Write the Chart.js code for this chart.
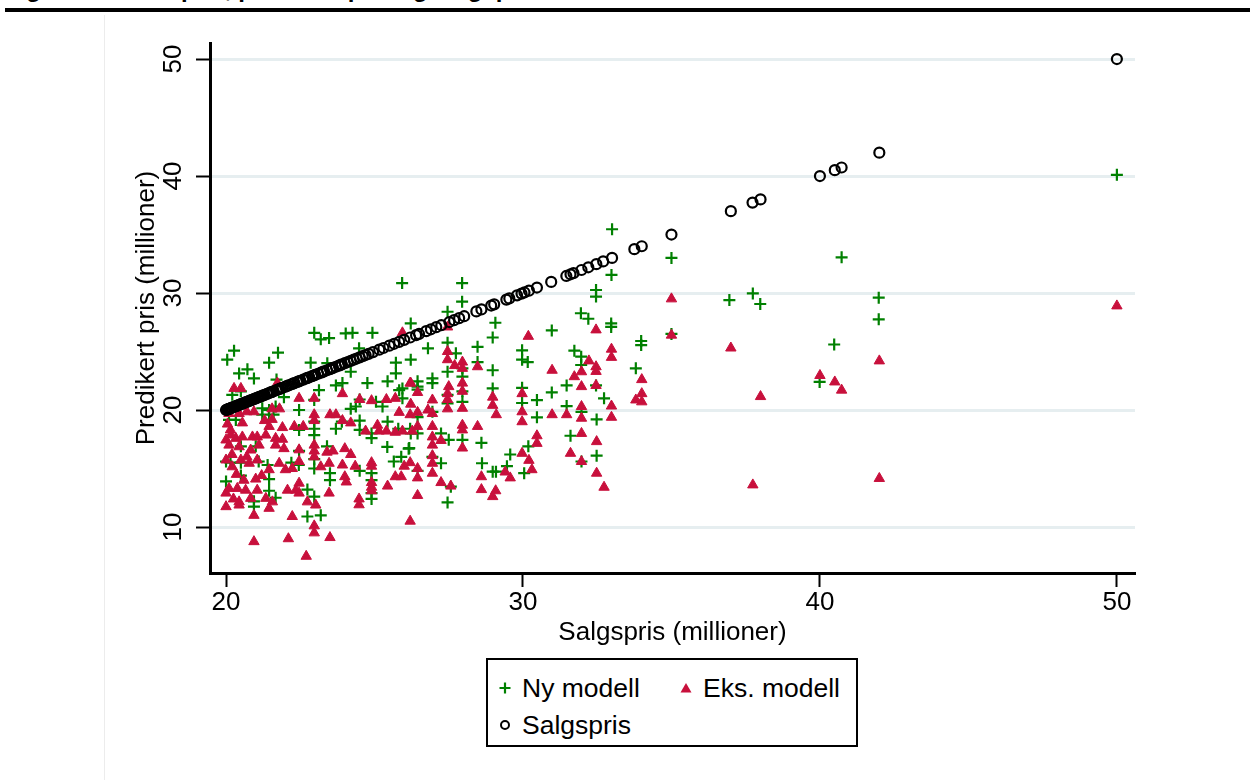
<!DOCTYPE html>
<html lang="no">
<head>
<meta charset="UTF-8">
<title>Predikert pris mot salgspris</title>
<style>
    body { margin: 0; background: #fff; font-family: 'Liberation Sans', Arial, sans-serif; }
    .wrap { position: relative; width: 1250px; height: 780px; overflow: hidden; }
    .toptitle { position: absolute; left: 5px; top: -24px; font-size: 24px; font-weight: bold; color: #000; white-space: nowrap; line-height: 26px; }
    .topline { position: absolute; left: 5px; right: 0; top: 8px; height: 4px; background: #000; }
    .sideline { position: absolute; left: 104px; top: 15px; bottom: 0; width: 1px; background: #ececec; }
    canvas { position: absolute; left: 0; top: 0; }
    .legend { position: absolute; left: 486px; top: 658px; width: 368px; height: 85px; border: 2px solid #000; background: #fff; }
    .item { position: absolute; font-size: 26.5px; color: #000; line-height: 30px; white-space: nowrap; }
    .item svg { position: absolute; left: -24px; top: 8px; }
</style>
</head>
<body>
<div class="wrap">
    <div class="toptitle">Figur 3: Scatterplot, predikert pris og salgspris</div>
    <div class="topline"></div>
    <div class="sideline"></div>
    <canvas id="chart" width="1250" height="780"></canvas>
    <div class="legend">
        <div class="item" style="left:34px; top:13px;">
            <svg width="14" height="14"><path d="M7 1.5 V12.5 M1.5 7 H12.5" stroke="#008000" stroke-width="2.2"/></svg>Ny modell</div>
        <div class="item" style="left:215px; top:13px;">
            <svg width="14" height="14"><path d="M7 2 L12.5 11.5 L1.5 11.5 Z" fill="#c8103c"/></svg>Eks. modell</div>
        <div class="item" style="left:34px; top:50px;">
            <svg width="14" height="14"><circle cx="7" cy="7" r="4" fill="none" stroke="#000" stroke-width="2"/></svg>Salgspris</div>
    </div>
</div>

<script src="https://cdn.jsdelivr.net/npm/chart.js"></script>
<script>
    // tick labels
    const xTicks = [20, 30, 40, 50];
    const yTicks = [10, 20, 30, 40, 50];

    // Salgspris (plotted against itself)
    const salgX = [
        20.0, 20.02, 20.05, 20.08, 20.1, 20.13, 20.16, 20.2, 20.25, 20.3, 20.33, 20.38, 20.42, 20.47,
        20.5, 20.55, 20.6, 20.65, 20.7, 20.75, 20.8, 20.85, 20.9, 20.95, 21.0, 21.05, 21.1, 21.15,
        21.2, 21.25, 21.3, 21.38, 21.45, 21.5, 21.55, 21.6, 21.7, 21.75, 21.8, 21.85, 21.9, 22.0,
        22.05, 22.1, 22.2, 22.25, 22.3, 22.4, 22.45, 22.5, 22.6, 22.7, 22.75, 22.8, 22.9, 22.95,
        23.0, 23.1, 23.2, 23.25, 23.3, 23.4, 23.5, 23.55, 23.6, 23.7, 23.8, 23.85, 23.9, 24.0,
        24.1, 24.2, 24.3, 24.4, 24.5, 24.6, 24.7, 24.8, 24.95, 25.16, 25.3, 25.5, 25.66, 25.83,
        26.0, 26.2, 26.4, 26.5, 26.74, 26.9, 27.08, 27.25, 27.52, 27.68, 27.85, 28.02, 28.43, 28.6,
        28.93, 29.03, 29.44, 29.54, 29.8, 29.95, 30.05, 30.2, 30.47, 30.95, 31.46, 31.6, 31.7, 31.97,
        32.2, 32.47, 32.7, 33.0, 33.75, 34.0, 35.0, 37.0, 37.73, 38.0, 40.0, 40.5, 40.73, 42.0, 50.0
    ];

    // Ny modell
    const nyX = [
        22.97, 23.19, 23.47, 24.03, 24.26, 24.93, 26.22, 20.04, 20.27, 21.75, 21.45, 20.44, 20.72, 20.94,
        21.7, 22.85, 23.41, 24.48, 25.72, 25.72, 26.22, 24.2, 23.7, 23.92, 24.76, 25.44, 25.83, 25.94,
        26.45, 20.21, 20.5, 21.95, 23.13, 22.97, 24.37, 25.05, 25.27, 24.5, 21.22, 21.45, 21.67, 22.46,
        20.1, 20.33, 21.22, 21.45, 21.6, 22.46, 22.97, 22.97, 22.97, 23.7, 23.9, 24.2, 24.5, 24.5,
        24.9, 24.9, 25.44, 25.8, 26.2, 20.5, 21.0, 22.46, 23.4, 25.43, 25.65, 25.9, 26.15, 20.0,
        20.15, 20.5, 21.1, 21.4, 22.2, 22.45, 22.97, 22.97, 23.5, 23.5, 24.5, 24.9, 24.9, 24.9,
        24.9, 20.0, 20.5, 21.45, 21.45, 20.94, 20.94, 22.74, 22.97, 22.74, 23.19, 21.67,
        29.07, 32.97, 32.97, 28.98, 30.97, 28.47, 27.46, 26.8, 27.74, 29.97, 29.97, 30.16, 28.47, 28.98,
        27.46, 27.96, 27.96, 31.73, 31.96, 31.96, 33.98, 33.98, 33.8, 26.95, 26.95, 26.45, 26.45, 25.94,
        27.46, 27.46, 27.96, 27.96, 28.98, 29.97, 29.97, 30.47, 30.47, 30.97, 31.47, 31.47, 31.97, 32.46,
        32.48, 32.73, 26.45, 26.22, 26.45, 26.95, 27.24, 27.5, 27.96, 28.6, 26.17, 31.6, 32.48, 31.97,
        29.57, 30.18, 29.46, 28.98, 29.09, 28.62, 30.04, 27.24, 26.45, 26.95, 27.57, 27.46,
        33.0, 35.0, 32.98, 32.46, 32.46, 31.95, 32.2, 35.0, 36.95, 37.74, 37.99, 41.98, 41.98, 40.73,
        40.48, 39.99, 50.0, 25.93, 27.95, 27.95, 27.46
    ];
    const nyY = [
        26.6, 26.04, 26.15, 26.55, 26.6, 26.6, 27.4, 24.3, 25.07, 24.9, 24.05, 23.13, 23.48, 22.7,
        22.6, 24.05, 24.0, 25.27, 24.05, 23.13, 24.3, 23.27, 22.1, 22.3, 22.3, 22.45, 21.7, 21.85,
        21.75, 21.3, 21.6, 21.1, 21.7, 20.86, 20.3, 20.7, 20.3, 20.9, 20.15, 20.0, 20.3, 20.0,
        19.15, 19.15, 19.6, 19.15, 19.6, 18.3, 19.0, 18.4, 17.85, 18.4, 19.0, 20.1, 18.3, 19.1,
        18.0, 17.6, 19.0, 18.4, 18.4, 16.9, 16.9, 16.5, 16.9, 16.85, 15.6, 16.0, 16.7, 15.6,
        15.5, 15.5, 15.6, 15.3, 15.5, 15.3, 15.8, 15.0, 14.6, 14.0, 14.8, 14.6, 14.0, 12.9,
        12.4, 13.9, 14.4, 14.1, 13.1, 12.2, 11.75, 13.2, 12.6, 10.9, 11.0, 12.5,
        27.46, 27.4, 27.1, 26.2, 26.8, 25.4, 25.76, 25.27, 24.85, 25.1, 24.3, 24.1, 24.1, 23.4,
        23.27, 23.56, 22.85, 25.07, 24.56, 23.85, 25.9, 25.55, 23.56, 22.7, 22.3, 22.45, 22.0, 21.0,
        21.3, 20.57, 21.6, 20.7, 21.85, 21.9, 20.6, 20.85, 19.38, 21.5, 22.1, 20.34, 19.85, 22.1,
        19.2, 21.0, 19.4, 18.0, 18.0, 19.85, 18.0, 17.45, 17.45, 17.2, 16.75, 17.8, 16.1, 15.6,
        16.2, 16.9, 15.2, 14.73, 14.73, 15.45, 14.6, 15.45, 14.8, 16.0, 13.45, 12.1,
        35.45, 33.0, 31.55, 30.26, 29.7, 28.27, 27.8, 26.5, 29.4, 29.97, 29.06, 29.6, 27.75, 33.05,
        25.6, 22.4, 40.1, 30.85, 30.85, 29.26, 28.4
    ];

    // Eks. modell
    const eksX = [
        20.27, 20.5, 21.73, 22.46, 22.97, 23.92, 24.5, 24.9, 25.4, 25.7, 25.94, 26.2, 20.1, 20.44,
        20.7, 20.94, 21.55, 21.8, 21.3, 21.55, 21.45, 21.9, 22.3, 22.6, 22.97, 22.97, 23.5, 23.7,
        23.92, 24.2, 24.7, 25.15, 25.4, 25.7, 25.94, 26.27, 25.1, 25.83, 26.2, 26.45,
        20.0, 20.16, 20.33, 20.55, 20.89, 21.05, 21.34, 21.67, 20.1, 20.44, 20.83, 21.11, 21.67,
        21.9, 21.95, 22.46, 22.97, 22.97, 23.4, 23.6, 24.0, 24.2,
        20.0, 20.21, 20.5, 20.78, 21.05, 21.45, 21.79, 22.0, 22.23, 22.46, 22.97, 23.19, 23.47, 23.92,
        24.0, 24.05, 24.35, 24.9, 24.9, 24.9, 24.9, 24.9, 25.44, 25.7, 25.9, 26.0, 26.2, 26.45,
        20.0, 20.1, 20.38, 20.44, 20.66, 20.83, 21.05, 21.34, 21.56, 22.07, 22.46, 22.46, 22.35,
        20.0, 20.44, 20.94, 21.45, 22.23, 22.74, 23.02, 23.47, 24.48, 24.48, 26.2, 20.94, 22.1, 22.7,
        22.97, 22.97, 23.5,
        30.18, 30.98, 31.73, 31.97, 31.97, 32.22, 32.46, 32.46, 32.46, 32.98, 32.98, 34.0, 34.0, 33.8,
        34.0, 32.98, 32.98, 27.46, 27.46, 27.96, 27.96, 27.96, 27.96, 27.96, 27.96, 27.96, 27.96, 27.7,
        28.47, 27.5, 27.46, 27.46, 27.46, 26.95, 26.95, 26.95, 26.95, 26.95, 26.95, 26.95, 26.95, 26.22,
        26.22, 26.45, 26.45, 26.8, 27.24, 28.47, 28.98, 28.98, 29.1, 29.97, 29.97, 29.97, 30.47, 30.47,
        30.98, 31.47, 31.97, 31.97, 31.97, 31.97, 32.48, 32.48, 32.73, 31.6, 29.97, 30.2, 30.3, 29.4,
        29.57, 28.6, 28.6, 28.98, 29.08, 27.57, 27.24, 26.45, 26.45,
        32.46, 35.0, 50.0, 35.0, 37.0, 42.0, 40.0, 40.5, 40.73, 38.0, 37.74, 42.0, 27.46,
        20.05, 20.2, 20.35, 20.6, 20.25, 20.7, 21.2, 20.15, 20.55, 21.0
    ];
    const eksY = [
        21.85, 21.85, 22.3, 21.0, 21.0, 21.4, 20.9, 20.8, 20.9, 21.0, 26.6, 22.3, 19.7, 19.7,
        19.85, 19.85, 20.1, 20.1, 19.1, 19.2, 18.6, 18.5, 18.6, 18.6, 19.6, 19.1, 19.6, 19.6,
        19.1, 18.9, 18.2, 18.2, 18.2, 18.1, 18.2, 18.2, 18.7, 19.8, 19.6, 19.8,
        17.44, 17.86, 17.58, 17.7, 17.7, 17.7, 17.86, 17.58, 17.0, 16.86, 16.58, 17.0, 17.0,
        17.5, 16.7, 16.6, 17.0, 16.5, 16.4, 16.5, 16.7, 16.2,
        15.73, 15.15, 15.73, 15.45, 15.73, 14.9, 15.45, 14.9, 15.0, 15.6, 16.0, 15.15, 15.45, 15.3,
        14.3, 13.85, 15.2, 15.5, 15.2, 13.8, 13.4, 13.1, 13.5, 14.3, 14.3, 15.2, 15.5, 15.0,
        12.9, 13.3, 13.3, 12.15, 13.15, 12.45, 13.15, 12.45, 12.15, 13.15, 12.9, 13.75, 13.15,
        11.74, 11.88, 11.0, 11.6, 10.9, 12.15, 11.88, 12.9, 12.4, 11.9, 10.5, 8.75, 9.0, 7.5,
        10.1, 9.5, 9.1,
        26.3, 23.4, 22.85, 23.27, 22.0, 24.2, 23.7, 23.3, 22.1, 25.2, 24.5, 22.6, 21.4, 20.86,
        20.7, 20.34, 19.38, 25.0, 24.3, 24.1, 23.56, 22.3, 21.6, 20.15, 18.7, 18.3, 16.75, 23.8,
        23.7, 22.0, 21.4, 20.9, 20.1, 20.86, 19.7, 18.6, 17.7, 17.0, 16.1, 15.45, 14.6, 22.3,
        20.5, 21.5, 18.6, 20.0, 17.4, 18.6, 21.1, 20.4, 19.6, 21.4, 19.85, 19.0, 17.8, 17.15,
        19.6, 19.6, 20.3, 19.3, 18.0, 15.6, 17.3, 14.6, 13.4, 16.3, 16.3, 15.7, 14.9, 14.7,
        14.2, 14.3, 13.2, 12.6, 13.1, 13.5, 13.8, 14.2, 12.7,
        26.85, 29.5, 28.9, 26.4, 25.3, 24.2, 22.95, 22.4, 21.7, 21.15, 13.6, 14.15, 27.1,
        18.8, 16.2, 14.5, 14.0, 12.4, 16.0, 14.4, 18.3, 18.9, 14.1
    ];

    const toPoints = (xs, ys) => xs.map((x, i) => ({ x: x, y: ys[i] }));

    // axis text drawn with the chart's own scales
    const axisText = {
        id: 'axisText',
        afterDraw(chart) {
            const ctx = chart.ctx;
            const xs = chart.scales.x, ys = chart.scales.y;
            const area = chart.chartArea;
            ctx.save();
            ctx.fillStyle = '#000';
            ctx.font = '26px "Liberation Sans", Arial, sans-serif';
            ctx.textAlign = 'center';
            ctx.textBaseline = 'middle';
            xTicks.forEach(v => ctx.fillText(String(v), xs.getPixelForValue(v), 603));
            ctx.fillText('Salgspris (millioner)', (area.left + area.right) / 2, 633);
            yTicks.forEach(v => {
                ctx.save();
                ctx.translate(174, ys.getPixelForValue(v));
                ctx.rotate(-Math.PI / 2);
                ctx.fillText(String(v), 0, 0);
                ctx.restore();
            });
            ctx.translate(147, (area.top + area.bottom) / 2);
            ctx.rotate(-Math.PI / 2);
            ctx.fillText('Predikert pris (millioner)', 0, 0);
            ctx.restore();
        }
    };

    new Chart(document.getElementById('chart'), {
        type: 'scatter',
        data: {
            datasets: [
                {
                    label: 'Salgspris',
                    data: toPoints(salgX, salgX),
                    pointStyle: 'circle',
                    pointRadius: 5,
                    borderWidth: 2.2,
                    borderColor: '#000',
                    backgroundColor: 'rgba(0,0,0,0)',
                    order: 1
                },
                {
                    label: 'Eks. modell',
                    data: toPoints(eksX, eksY),
                    pointStyle: 'triangle',
                    pointRadius: 6,
                    borderWidth: 1,
                    borderColor: '#c8103c',
                    backgroundColor: '#c8103c',
                    order: 2
                },
                {
                    label: 'Ny modell',
                    data: toPoints(nyX, nyY),
                    pointStyle: 'cross',
                    pointRadius: 6,
                    borderWidth: 2.2,
                    borderColor: '#008000',
                    backgroundColor: '#008000',
                    order: 3
                }
            ]
        },
        options: {
            responsive: false,
            animation: false,
            devicePixelRatio: 1,
            layout: { padding: { left: 170, top: 43, right: 115, bottom: 177 } },
            plugins: { legend: { display: false }, tooltip: { enabled: false } },
            scales: {
                x: {
                    type: 'linear',
                    min: 19.46,
                    max: 50.61,
                    afterFit: s => { s.height = 30; },
                    afterBuildTicks: s => { s.ticks = xTicks.map(v => ({ value: v })); },
                    ticks: { display: false },
                    border: { display: true, color: '#000', width: 3 },
                    grid: { drawOnChartArea: false, drawTicks: true, tickLength: 14, tickColor: '#000', tickWidth: 2 }
                },
                y: {
                    type: 'linear',
                    min: 6.07,
                    max: 51.37,
                    afterFit: s => { s.width = 40; },
                    afterBuildTicks: s => { s.ticks = yTicks.map(v => ({ value: v })); },
                    ticks: { display: false },
                    border: { display: true, color: '#000', width: 3 },
                    grid: { color: '#e6eef0', lineWidth: 3, drawTicks: true, tickLength: 14, tickColor: '#000', tickWidth: 2 }
                }
            }
        },
        plugins: [axisText]
    });
</script>
</body>
</html>
